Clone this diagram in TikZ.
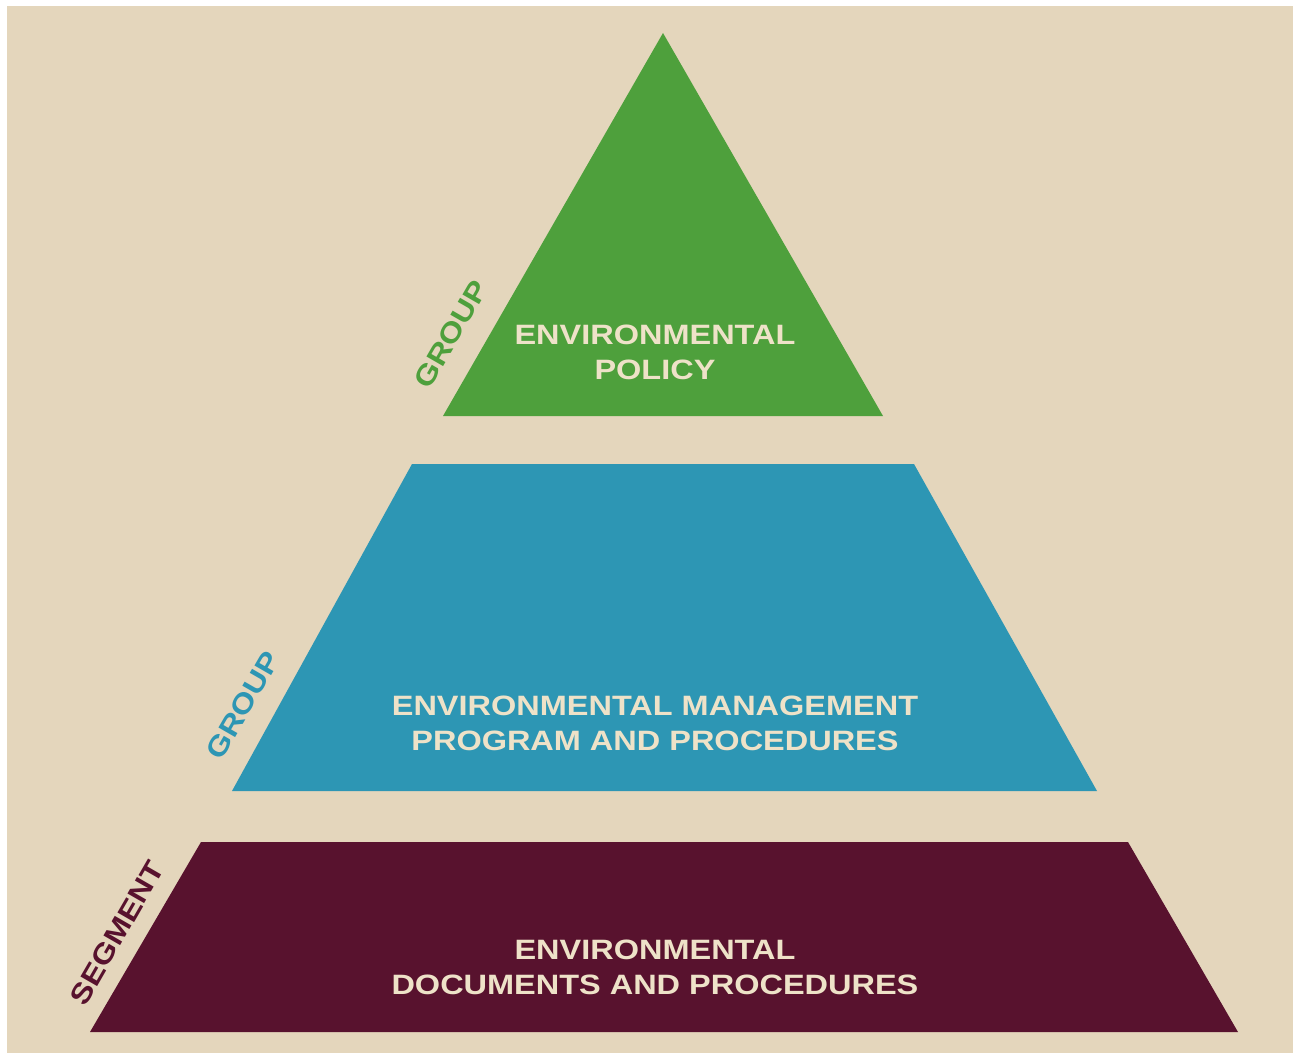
\documentclass[tikz,border=0pt]{standalone}
\usepackage{fontspec}
\setmainfont{Liberation Sans}
\newfontfamily\widefont{Liberation Sans}[FakeStretch=1.16]
\usepackage{xcolor}
\usetikzlibrary{positioning}

\definecolor{kraft}{RGB}{228,214,188}
\definecolor{leafgreen}{RGB}{78,160,60}
\definecolor{lakeblue}{RGB}{45,150,180}
\definecolor{winered}{RGB}{88,18,46}
\definecolor{cream}{RGB}{238,226,200}

\begin{document}
\begin{tikzpicture}[x=1pt,y=-1pt,
    tiertext/.style={font=\widefont\bfseries\fontsize{28}{35}\selectfont,text=cream,align=center,inner sep=0pt},
    sidelabel/.style={font=\widefont\bfseries\fontsize{28}{28}\selectfont,rotate=60,inner sep=0pt}]
  % paper
  \fill[white] (0,0) rectangle (1293,1059);
  \fill[kraft] (7,6) rectangle (1293,1053);

  % the three tiers
  \fill[leafgreen] (663,33) -- (883,416) -- (443,416) -- cycle;
  \fill[lakeblue] (412,464) -- (914,464) -- (1097,791) -- (232,791) -- cycle;
  \fill[winered] (201,842) -- (1128,842) -- (1238,1032) -- (90,1032) -- cycle;

  \node[tiertext] (policy) at (655,352) {ENVIRONMENTAL\\POLICY};
  \node[tiertext] (program) at (655,723) {ENVIRONMENTAL MANAGEMENT\\PROGRAM AND PROCEDURES};
  \node[tiertext] (documents) at (655,967) {ENVIRONMENTAL\\DOCUMENTS AND PROCEDURES};

  % side labels
  \node[sidelabel,text=leafgreen] (grouptop) at (451,334) {GROUP};
  \node[sidelabel,text=lakeblue] (groupmid) at (243,705) {GROUP};
  \node[sidelabel,text=winered] (segment) at (117,933) {SEGMENT};
\end{tikzpicture}
\end{document}
